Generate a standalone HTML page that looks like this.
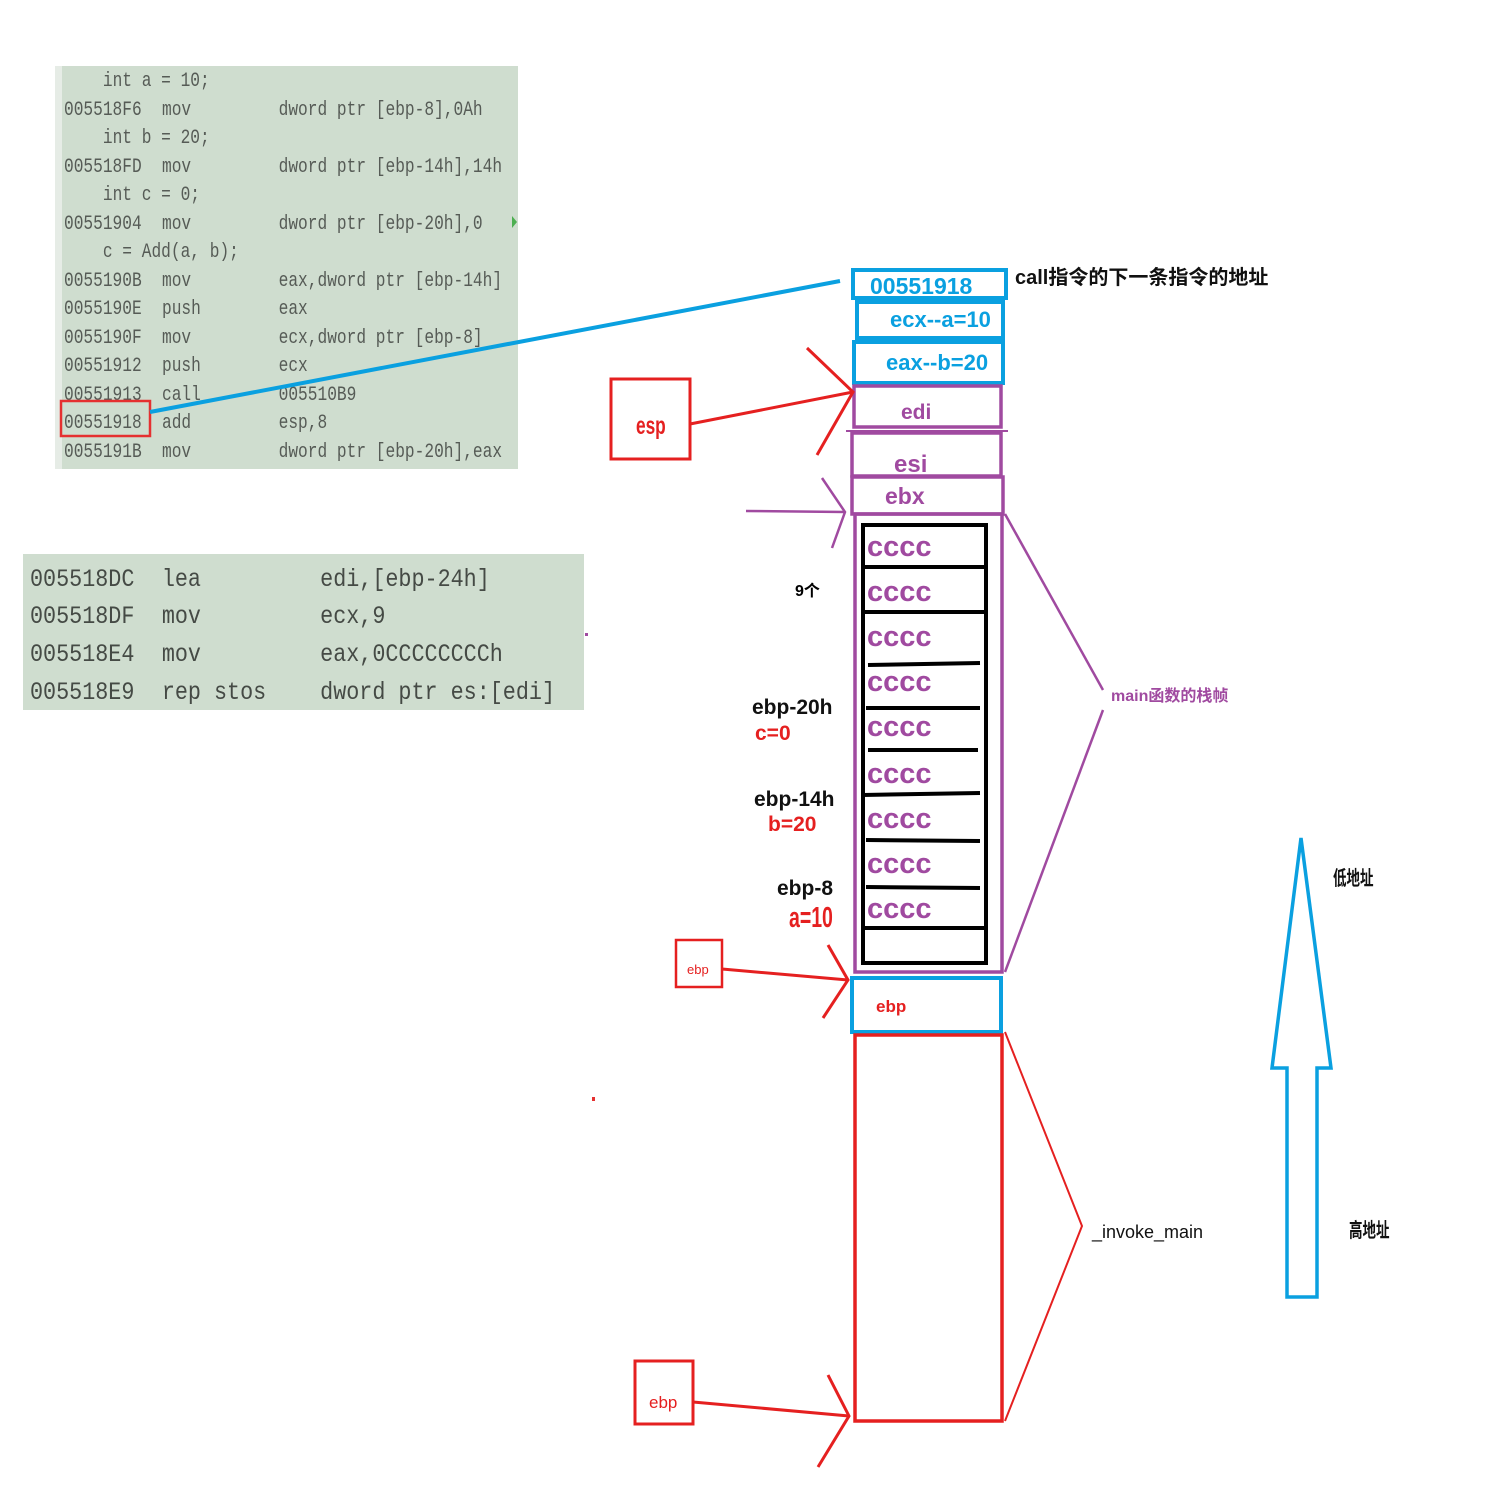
<!DOCTYPE html>
<html><head><meta charset="utf-8"><style>html,body{margin:0;padding:0;background:#fff}svg{display:block}</style></head><body>
<svg width="1488" height="1494" viewBox="0 0 1488 1494" xmlns="http://www.w3.org/2000/svg">
<rect x="0" y="0" width="1488" height="1494" fill="#fff"/>
<!-- code panel 1 -->
<rect x="55" y="66" width="463" height="403" fill="#cfddcf"/>
<rect x="55" y="66" width="7" height="403" fill="#e6ece6"/>
<g font-family="Liberation Mono, monospace" font-size="20" fill="#565b56" transform="scale(0.81 1)">
<text x="127" y="86">int a = 10;</text>
<text x="79" y="115">005518F6</text><text x="200" y="115">mov</text><text x="344" y="115">dword ptr [ebp-8],0Ah</text>
<text x="127" y="143">int b = 20;</text>
<text x="79" y="172">005518FD</text><text x="200" y="172">mov</text><text x="344" y="172">dword ptr [ebp-14h],14h</text>
<text x="127" y="200">int c = 0;</text>
<text x="79" y="229">00551904</text><text x="200" y="229">mov</text><text x="344" y="229">dword ptr [ebp-20h],0</text>
<text x="127" y="257">c = Add(a, b);</text>
<text x="79" y="286">0055190B</text><text x="200" y="286">mov</text><text x="344" y="286">eax,dword ptr [ebp-14h]</text>
<text x="79" y="314">0055190E</text><text x="200" y="314">push</text><text x="344" y="314">eax</text>
<text x="79" y="343">0055190F</text><text x="200" y="343">mov</text><text x="344" y="343">ecx,dword ptr [ebp-8]</text>
<text x="79" y="371">00551912</text><text x="200" y="371">push</text><text x="344" y="371">ecx</text>
<text x="79" y="400">00551913</text><text x="200" y="400">call</text><text x="344" y="400">005510B9</text>
<text x="79" y="428">00551918</text><text x="200" y="428">add</text><text x="344" y="428">esp,8</text>
<text x="79" y="457">0055191B</text><text x="200" y="457">mov</text><text x="344" y="457">dword ptr [ebp-20h],eax</text>
</g>
<polygon points="512,216 517,222 512,228" fill="#4caf50"/>
<rect x="61" y="401" width="89" height="35" fill="none" stroke="#e53030" stroke-width="2.5"/>
<line x1="150" y1="412" x2="840" y2="281" stroke="#0aa0e0" stroke-width="4"/>
<!-- code panel 2 -->
<rect x="23" y="554" width="561" height="156" fill="#cfddcf"/>
<g font-family="Liberation Mono, monospace" font-size="25" fill="#454a45" transform="scale(0.87 1)">
<text x="34.5" y="586">005518DC</text><text x="186" y="586">lea</text><text x="368" y="586">edi,[ebp-24h]</text>
<text x="34.5" y="623">005518DF</text><text x="186" y="623">mov</text><text x="368" y="623">ecx,9</text>
<text x="34.5" y="661">005518E4</text><text x="186" y="661">mov</text><text x="368" y="661">eax,0CCCCCCCCh</text>
<text x="34.5" y="699">005518E9</text><text x="186" y="699">rep stos</text><text x="368" y="699">dword ptr es:[edi]</text>
</g>
<rect x="585" y="633" width="3" height="3" fill="#a04aa0"/>
<rect x="592" y="1097" width="3" height="4" fill="#e53030"/>
<!-- stack boxes -->
<g fill="none" stroke-width="4">
<rect x="853" y="270" width="153" height="28" stroke="#0aa0e0"/>
<rect x="857" y="302" width="146" height="36" stroke="#0aa0e0"/>
<rect x="854" y="342" width="149" height="41" stroke="#0aa0e0"/>
<rect x="854" y="386" width="147" height="41" stroke="#a04aa0" stroke-width="3.5"/>
<line x1="846" y1="431" x2="1008" y2="431" stroke="#a04aa0" stroke-width="2"/>
<rect x="852" y="433" width="149" height="43" stroke="#a04aa0" stroke-width="3.5"/>
<rect x="852" y="477" width="151" height="37" stroke="#a04aa0" stroke-width="3.5"/>
<rect x="855" y="514" width="147" height="458" stroke="#a04aa0" stroke-width="3.5"/>
<rect x="863" y="525" width="123" height="438" stroke="#000"/>
<g stroke="#000"><line x1="863" y1="567" x2="986" y2="567"/><line x1="863" y1="612" x2="986" y2="612"/><line x1="868" y1="665" x2="980" y2="663"/><line x1="866" y1="708" x2="980" y2="708"/><line x1="868" y1="750" x2="978" y2="750"/><line x1="863" y1="795" x2="980" y2="793"/><line x1="866" y1="840" x2="980" y2="841"/><line x1="866" y1="887" x2="980" y2="888"/><line x1="863" y1="928" x2="986" y2="928"/></g>
<rect x="852" y="978" width="149" height="54" stroke="#0aa0e0"/>
<rect x="855" y="1035" width="147" height="386" stroke="#e52020" stroke-width="3.5"/>
</g>
<g font-family="Liberation Sans, sans-serif" font-weight="bold">
<text x="870" y="294" font-size="23" fill="#0aa0e0">00551918</text>
<text x="890" y="327" font-size="22" fill="#0aa0e0">ecx--a=10</text>
<text x="886" y="370" font-size="22" fill="#0aa0e0">eax--b=20</text>
<text x="901" y="419" font-size="21" fill="#a04aa0">edi</text>
<text x="894" y="472" font-size="24" fill="#a04aa0">esi</text>
<text x="885" y="504" font-size="23" fill="#a04aa0">ebx</text>
<g font-size="29" fill="#a04aa0"><text x="867" y="556">cccc</text><text x="867" y="601">cccc</text><text x="867" y="646">cccc</text><text x="867" y="691">cccc</text><text x="867" y="736">cccc</text><text x="867" y="783">cccc</text><text x="867" y="828">cccc</text><text x="867" y="873">cccc</text><text x="867" y="918">cccc</text></g>
<text x="876" y="1012" font-size="17" fill="#e52020">ebp</text>
<text x="1015" y="284" font-size="20" fill="#111" font-family="Liberation Sans, Noto Sans CJK SC, sans-serif">call指令的下一条指令的地址</text>
<text x="1111" y="701" font-size="16" fill="#a04aa0" font-family="Liberation Sans, Noto Sans CJK SC, sans-serif">main函数的栈帧</text>
<text x="795" y="596" font-size="16" fill="#000" font-family="Liberation Sans, Noto Sans CJK SC, sans-serif">9个</text>
<text x="752" y="714" font-size="21" fill="#111">ebp-20h</text>
<text x="755" y="740" font-size="21" fill="#e52020">c=0</text>
<text x="754" y="806" font-size="21" fill="#111">ebp-14h</text>
<text x="768" y="831" font-size="21" fill="#e52020">b=20</text>
<text x="777" y="895" font-size="21" fill="#111">ebp-8</text>
<text x="789" y="927" font-size="26" fill="#e52020" transform="translate(789 927) scale(0.75 1.1) translate(-789 -927)">a=10</text>
</g>
<g font-family="Liberation Sans, Noto Sans CJK SC, sans-serif" font-size="18" fill="#111" font-weight="bold">
<text x="1092" y="1238" font-weight="normal">_invoke_main</text>
<text x="1333" y="885" transform="translate(1333 885) scale(0.75 1.1) translate(-1333 -885)">低地址</text>
<text x="1349" y="1237" transform="translate(1349 1237) scale(0.75 1.1) translate(-1349 -1237)">高地址</text>
</g>
<!-- red/purple arrows -->
<g fill="none" stroke="#e52020" stroke-width="3">
<rect x="611" y="379" width="79" height="80"/>
<line x1="690" y1="424" x2="853" y2="392"/>
<polyline points="807,348 853,392 817,455"/>
<rect x="676" y="940" width="46" height="47" stroke-width="2.5"/>
<line x1="722" y1="969" x2="848" y2="980"/>
<polyline points="828,945 848,980 823,1018"/>
<rect x="635" y="1361" width="58" height="63"/>
<line x1="693" y1="1402" x2="849" y2="1416"/>
<polyline points="828,1375 849,1416 818,1467"/>
<polyline points="1005,1032 1082,1226 1005,1421" stroke-width="2"/>
</g>
<g font-family="Liberation Sans, sans-serif" fill="#e52020" font-weight="bold">
<text x="636" y="434" font-size="23" transform="translate(636 434) scale(0.75 1.1) translate(-636 -434)">esp</text>
<text x="687" y="974" font-size="13" font-weight="normal">ebp</text>
<text x="649" y="1408" font-size="17" font-weight="normal">ebp</text>
</g>
<g fill="none" stroke="#a04aa0" stroke-width="2.5">
<line x1="746" y1="511" x2="845" y2="512"/>
<polyline points="822,478 845,512 832,548"/>
<polyline points="1005,514 1103,690"/>
<polyline points="1103,710 1005,972"/>
</g>
<polygon points="1301,838 1331,1068 1317,1068 1317,1297 1287,1297 1287,1068 1272,1068" fill="none" stroke="#0aa0e0" stroke-width="3.5"/>
</svg>
</body></html>
